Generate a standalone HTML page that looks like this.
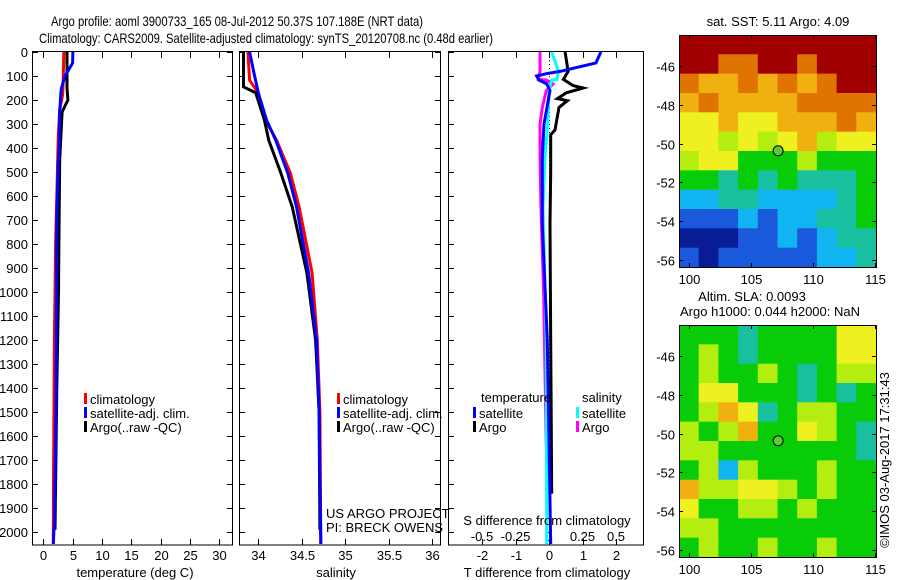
<!DOCTYPE html>
<html><head><meta charset="utf-8">
<style>
html,body{margin:0;padding:0;background:#fff;}
svg{display:block;font-family:"Liberation Sans",sans-serif;}
text{fill:#000;}
</style></head>
<body>
<svg id="fig" width="900" height="580" viewBox="0 0 900 580" xmlns="http://www.w3.org/2000/svg">
<text x="51" y="26" font-size="14" textLength="372" lengthAdjust="spacingAndGlyphs">Argo profile: aoml 3900733_165 08-Jul-2012 50.37S 107.188E (NRT data)</text>
<text x="39" y="43" font-size="14" textLength="454" lengthAdjust="spacingAndGlyphs">Climatology: CARS2009. Satellite-adjusted climatology: synTS_20120708.nc (0.48d earlier)</text>
<g id="g1"></g>
<g id="g2"></g>
<g id="g3"></g>
<g id="g4"></g>
<g id="g5"></g>
<text font-size="13" transform="translate(889,460) rotate(-90)" text-anchor="middle">©IMOS 03-Aug-2017 17:31:43</text>
</svg>
<script>
// ---- data ----
const depthTicks=[0,100,200,300,400,500,600,700,800,900,1000,1100,1200,1300,1400,1500,1600,1700,1800,1900,2000];
const tTicks=[0,5,10,15,20,25,30];
const sTicks=[34,34.5,35,35.5,36];
const tdTicks=[-2,-1,0,1,2];
const sdTicks=[-0.5,-0.25,0,0.25,0.5];
const sdLabels=["-0.5","-0.25","0","0.25","0.5"];

const climT_d=[0,120,180,240,360,500,800,1200,1730,2050];
const climT_v=[3.5,3.4,3.3,2.8,2.55,2.4,2.1,1.9,1.75,1.7];
const satT_d=[0,46,80,100,150,170,250,400,460,700,1000,1500,1950,2050];
const satT_v=[5.05,5.0,4.2,3.7,3.1,3.0,2.8,2.7,2.55,2.28,2.25,2.17,1.9,1.7];
const argoT_d=[0,150,200,250,300,450,700,1000,1400,1800,1990];
const argoT_v=[4.05,4.05,4.2,3.2,3.1,2.8,2.7,2.6,2.3,2.1,2.0];

const climS_d=[0,118,170,283,367,505,645,921,1200,1500,2050];
const climS_v=[33.88,33.9,34.0,34.08,34.21,34.37,34.47,34.62,34.68,34.71,34.72];
const satS_d=[0,88,170,283,367,505,645,921,1200,1500,2050];
const satS_v=[33.9,33.95,34.0,34.095,34.2,34.34,34.44,34.58,34.67,34.7,34.72];
const argoS_d=[0,145,170,283,367,505,645,921,1200,1500,1990];
const argoS_v=[33.83,33.83,33.97,34.07,34.12,34.26,34.39,34.56,34.66,34.7,34.71];

const dT_sat_d=[0,46,68,81,90,100,117,133,161,300,439,717,1200,2050];
const dT_sat_v=[1.55,1.4,0.72,0.33,-0.07,-0.37,-0.3,-0.07,0.03,-0.15,-0.2,-0.2,-0.05,0.05];
const dT_argo_d=[0,81,114,140,150,170,194,203,231,325,345,500,717,1200,1840];
const dT_argo_v=[0.48,0.57,0.43,0.72,1.02,0.52,0.25,0.55,0.3,0.18,0.05,0.05,0.03,0.05,0.08];
const dS_sat_d=[0,81,114,117,161,300,439,650,1200,2050];
const dS_sat_v=[0.02,0.07,0.06,0.02,0.0,-0.01,-0.03,-0.045,-0.02,-0.017];
const dS_argo_d=[0,81,114,117,133,161,231,300,439,650,1000,1645];
const dS_argo_v=[-0.067,-0.067,-0.08,-0.02,0.03,-0.02,-0.05,-0.067,-0.067,-0.06,-0.04,-0.02];

const lonTicks=[100,105,110,115];
const latTicks=[-46,-48,-50,-52,-54,-56];
const sstGrid=[
[9,9,9,9,9,9,9,9,9,9],
[9,9,8,8,9,9,8,9,9,9],
[8,7,7,8,7,8,7,8,9,9],
[7,8,7,7,7,7,8,8,8,8],
[6,6,7,6,6,7,7,7,8,7],
[6,6,5,6,5,6,7,5,6,6],
[5,6,6,4,4,4,5,4,4,4],
[4,4,3,4,3,4,3,3,3,4],
[2,2,3,3,2,2,2,2,3,4],
[1,1,1,2,1,2,2,3,3,4],
[0,0,0,1,1,2,1,2,3,3],
[1,0,1,1,1,1,1,2,2,3]];
const slaGrid=[
[4,4,4,3,4,4,4,4,6,6],
[4,5,4,3,4,4,4,4,6,6],
[4,5,4,4,5,4,3,4,5,5],
[4,6,6,4,4,4,3,4,3,4],
[4,5,7,6,3,4,5,5,4,4],
[5,4,5,7,4,4,6,5,4,3],
[5,5,4,4,4,4,4,4,4,3],
[4,5,2,5,4,4,4,5,4,4],
[7,5,5,6,6,5,4,5,4,4],
[6,4,4,5,5,4,5,4,4,4],
[5,5,4,4,4,4,4,4,4,4],
[4,5,4,4,5,4,4,5,4,4]];
const argoLon=107.188, argoLat=-50.37;

// ---- helpers ----
const NS="http://www.w3.org/2000/svg";
const FS=13;
function mk(parent,tag,attrs,txt){const e=document.createElementNS(NS,tag);for(const k in attrs)e.setAttribute(k,attrs[k]);if(txt!==undefined)e.textContent=txt;parent.appendChild(e);return e;}
const yD=d=>52+0.24*d;
const xT=t=>43.3+5.86*t;
const xS=s=>258.3+86.8*(s-34);
const xTD=t=>549+33.5*t;
const xSD=s=>549+134*s;
function frame(g,x0,x1){mk(g,'rect',{x:x0+0.5,y:51.5,width:x1-x0,height:493.5,fill:'none',stroke:'#000','stroke-width':1});}
function yticks(g,x0,x1,labels){
  depthTicks.forEach(d=>{const y=yD(d);
    const t=mk(g,'line',{x1:x0,y1:y+0.5,x2:x0+6,y2:y+0.5,stroke:'#000'});
    
    if(x1)mk(g,'line',{x1:x1-5,y1:y+0.5,x2:x1,y2:y+0.5,stroke:'#000'});
    if(labels){const l=mk(g,'text',{x:28,y:y+5,'font-size':FS,'text-anchor':'end'},String(d));
      }
  });}
function xticks(g,vals,fx,labs,ly){vals.forEach((v,i)=>{const x=Math.round(fx(v))+0.5;
  mk(g,'line',{x1:x,y1:52,x2:x,y2:58,stroke:'#000'});mk(g,'line',{x1:x,y1:539,x2:x,y2:545,stroke:'#000'});
  const l=mk(g,'text',{x:x,y:ly,'font-size':FS,'text-anchor':'middle'},labs?labs[i]:String(v));
  });}
function line(g,ds,vs,fx,col,name,w){const p=ds.map((d,i)=>fx(vs[i]).toFixed(1)+','+yD(d).toFixed(1)).join(' ');
  const e=mk(g,'polyline',{points:p,fill:'none',stroke:col,'stroke-width':w||3,'stroke-linejoin':'miter'});
  }
function legend(g,x,y,col,txt,name){mk(g,'rect',{x:x,y:y-6,width:3,height:11,fill:col});
  const t=mk(g,'text',{x:x+6,y:y+5,'font-size':FS},txt);}

// ---- panel 1 ----
const g1=document.getElementById('g1');
frame(g1,32,232);yticks(g1,32,232,true);xticks(g1,tTicks,xT,null,560);
line(g1,climT_d,climT_v,xT,'#f00','climatology-temp-line');
line(g1,argoT_d,argoT_v,xT,'#000','argo-temp-line');
line(g1,satT_d,satT_v,xT,'#00f','satellite-temp-line');
legend(g1,84,399,'#f00','climatology','legend-climatology');
legend(g1,84,413,'#00f','satellite-adj. clim.','legend-satellite');
legend(g1,84,427,'#000','Argo(..raw -QC)','legend-argo');
mk(g1,'text',{x:135,y:577,'font-size':FS,'text-anchor':'middle',},'temperature (deg C)');

// ---- panel 2 ----
const g2=document.getElementById('g2');
frame(g2,239,440);yticks(g2,239,440,false);xticks(g2,sTicks,xS,null,560);
line(g2,climS_d,climS_v,xS,'#f00','climatology-salinity-line');
line(g2,argoS_d,argoS_v,xS,'#000','argo-salinity-line');
line(g2,satS_d,satS_v,xS,'#00f','satellite-salinity-line');
legend(g2,337,399,'#f00','climatology','legend-climatology-s');
legend(g2,337,413,'#00f','satellite-adj. clim.','legend-satellite-s');
legend(g2,337,427,'#000','Argo(..raw -QC)','legend-argo-s');
mk(g2,'text',{x:326,y:518,'font-size':FS,},'US ARGO PROJECT');
mk(g2,'text',{x:326,y:532,'font-size':FS,},'PI: BRECK OWENS');
mk(g2,'text',{x:336,y:577,'font-size':FS,'text-anchor':'middle',},'salinity');

// ---- panel 3 ----
const g3=document.getElementById('g3');
frame(g3,448,643);yticks(g3,448,0,false);xticks(g3,tdTicks,xTD,null,560);
sdTicks.forEach((v,i)=>{const l=mk(g3,'text',{x:xSD(v),y:541,'font-size':FS,'text-anchor':'middle'},sdLabels[i]);
  });
mk(g3,'line',{x1:549.5,y1:52,x2:549.5,y2:545,stroke:'#000','stroke-dasharray':'1,3'});
line(g3,dT_argo_d,dT_argo_v,xTD,'#000','argo-temp-diff-line');
line(g3,dS_argo_d,dS_argo_v,xSD,'#f0f','argo-salinity-diff-line');
line(g3,dS_sat_d,dS_sat_v,xSD,'#0ff','satellite-salinity-diff-line');
line(g3,dT_sat_d,dT_sat_v,xTD,'#00f','satellite-temp-diff-line');
mk(g3,'text',{x:481,y:402,'font-size':FS,},'temperature');
mk(g3,'text',{x:582,y:402,'font-size':FS,},'salinity');
legend(g3,473,413,'#00f','satellite','legend-temp-satellite');
legend(g3,473,427,'#000','Argo','legend-temp-argo');
legend(g3,576,413,'#0ff','satellite','legend-sal-satellite');
legend(g3,576,427,'#f0f','Argo','legend-sal-argo');
mk(g3,'text',{x:547,y:525,'font-size':FS,'text-anchor':'middle',},'S difference from climatology');
mk(g3,'text',{x:547,y:577,'font-size':FS,'text-anchor':'middle',},'T difference from climatology');

// ---- maps ----
const pal=['#081c96','#1a58dc','#10b4f0','#18c0a0','#08cc08','#b4ee10','#eef020','#f0b010','#e07400','#a20000'];
const mx0=679,mx1=876;
const xLon=l=>689+(l-100)*12.4;
function map(g,y0,grid,name){
  const y1=y0+232, rows=grid.length, cols=grid[0].length;
  const cw=(mx1-mx0)/cols, ch=(y1-y0)/rows;
  grid.forEach((row,r)=>row.forEach((v,c)=>{
    const e=mk(g,'rect',{x:(mx0+c*cw).toFixed(2),y:(y0+r*ch).toFixed(2),width:(cw+0.6).toFixed(2),height:(ch+0.6).toFixed(2),fill:pal[v]});
    }));
  mk(g,'rect',{x:mx0+0.5,y:y0+0.5,width:mx1-mx0,height:y1-y0,fill:'none',stroke:'#000'});
  const yLat=la=>y0+31+(-46-la)*19.4;
  lonTicks.forEach(l=>{const x=Math.round(xLon(l))+0.5;mk(g,'line',{x1:x,y1:y0,x2:x,y2:y0+4,stroke:'#000'});mk(g,'line',{x1:x,y1:y1-4,x2:x,y2:y1,stroke:'#000'});
    const t=mk(g,'text',{x:x,y:y1+17,'font-size':FS,'text-anchor':'middle'},String(l));});
  latTicks.forEach(la=>{const y=Math.round(yLat(la))+0.5;mk(g,'line',{x1:mx0,y1:y,x2:mx0+4,y2:y,stroke:'#000'});mk(g,'line',{x1:mx1-4,y1:y,x2:mx1,y2:y,stroke:'#000'});
    const t=mk(g,'text',{x:675,y:y+5,'font-size':FS,'text-anchor':'end'},String(la));});
  const m=mk(g,'circle',{cx:xLon(argoLon),cy:yLat(argoLat),r:5,fill:'#5ccc2c',stroke:'#000','stroke-width':1});
  
}
const g4=document.getElementById('g4'), g5=document.getElementById('g5');
map(g4,35,sstGrid,'sst');
map(g5,325,slaGrid,'sla');
mk(g4,'text',{x:778,y:26,'font-size':FS,'text-anchor':'middle',},'sat. SST: 5.11  Argo: 4.09');
mk(g5,'text',{x:752,y:301,'font-size':FS,'text-anchor':'middle',},'Altim. SLA: 0.0093');
mk(g5,'text',{x:770,y:316,'font-size':FS,'text-anchor':'middle',},'Argo h1000: 0.044 h2000: NaN');
</script>
</body></html>
